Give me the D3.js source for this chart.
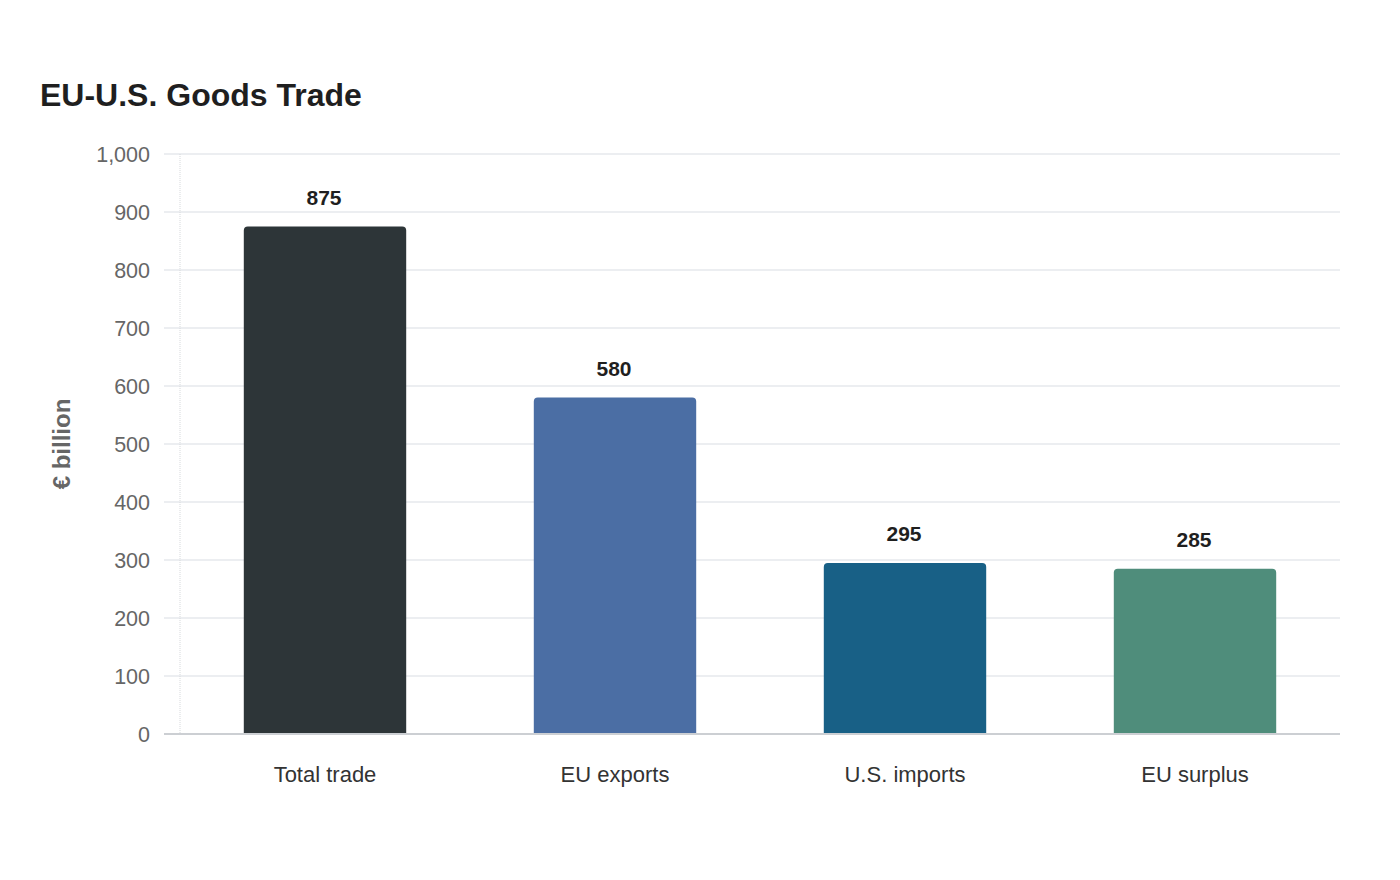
<!DOCTYPE html>
<html>
<head>
<meta charset="utf-8">
<script src="https://cdn.jsdelivr.net/npm/d3@7"></script>
<style>
  html, body { margin: 0; padding: 0; background: #ffffff; }
  svg { display: block; font-family: "Liberation Sans", Arial, sans-serif; }
</style>
</head>
<body>
<svg id="chart" width="1400" height="880"></svg>
<script>
const categories = ["Total trade", "EU exports", "U.S. imports", "EU surplus"];
const values = [875, 580, 295, 285];
const colors = ["#2d3538", "#4b6ea4", "#186086", "#4f8d7b"];
const yTicks = [0, 100, 200, 300, 400, 500, 600, 700, 800, 900, 1000];
const title = "EU-U.S. Goods Trade";
const yTitle = "€ billion";

const svg = d3.select("#chart");
const margin = { left: 180, right: 60, top: 154, bottom: 146 };
const W = 1400, H = 880;
const x0 = margin.left, x1 = W - margin.right;
const y0 = H - margin.bottom, y1 = margin.top;

const x = d3.scaleBand().domain(categories).range([x0, x1]).paddingInner(0.44).paddingOuter(0.22);
const y = d3.scaleLinear().domain([0, 1000]).range([y0, y1]);

// title
svg.append("text").attr("x", 40).attr("y", 106)
  .attr("font-size", 32).attr("font-weight", "bold").attr("fill", "#1f1f1f")
  .text(title);

// gridlines
svg.append("g").selectAll("line").data(yTicks.filter(d => d > 0)).join("line")
  .attr("x1", x0 - 16).attr("x2", x1)
  .attr("y1", d => y(d)).attr("y2", d => y(d))
  .attr("stroke", "#e6e9ec").attr("stroke-width", 1.5);

// y axis line (dotted light)
svg.append("line").attr("x1", x0).attr("x2", x0).attr("y1", y1).attr("y2", y0)
  .attr("stroke", "#d6d9dc").attr("stroke-width", 1).attr("stroke-dasharray", "1,1");

// y tick labels
svg.append("g").selectAll("text").data(yTicks).join("text")
  .attr("x", 150).attr("y", d => y(d)).attr("dy", "0.35em")
  .attr("text-anchor", "end").attr("font-size", 21.5).attr("fill", "#666666")
  .text(d => d3.format(",")(d));

// y title
svg.append("text").attr("transform", `translate(70,${(y0 + y1) / 2}) rotate(-90)`)
  .attr("text-anchor", "middle").attr("font-size", 24).attr("font-weight", "bold").attr("fill", "#666666")
  .text(yTitle);

// bars with rounded top corners
const r = 4;
function barPath(d) {
  const bx = x(d.cat), bw = x.bandwidth(), top = y(d.v), bot = y(0);
  return `M${bx},${bot} L${bx},${top + r} Q${bx},${top} ${bx + r},${top} L${bx + bw - r},${top} Q${bx + bw},${top} ${bx + bw},${top + r} L${bx + bw},${bot} Z`;
}
const data = categories.map((c, i) => ({ cat: c, v: values[i], color: colors[i] }));
svg.append("g").selectAll("path").data(data).join("path")
  .attr("d", barPath).attr("fill", d => d.color);

// baseline
svg.append("line").attr("x1", x0 - 16).attr("x2", x1).attr("y1", y0).attr("y2", y0)
  .attr("stroke", "#cccfd3").attr("stroke-width", 2);

// value labels
svg.append("g").selectAll("text").data(data).join("text")
  .attr("x", d => x(d.cat) + x.bandwidth() / 2 - 1).attr("y", d => y(d.v) - 22)
  .attr("text-anchor", "middle").attr("font-size", 21).attr("font-weight", "bold").attr("fill", "#1f1f1f")
  .text(d => d.v);

// category labels
svg.append("g").selectAll("text").data(categories).join("text")
  .attr("x", d => x(d) + x.bandwidth() / 2).attr("y", 782)
  .attr("text-anchor", "middle").attr("font-size", 22).attr("fill", "#333333")
  .text(d => d);
</script>
</body>
</html>
